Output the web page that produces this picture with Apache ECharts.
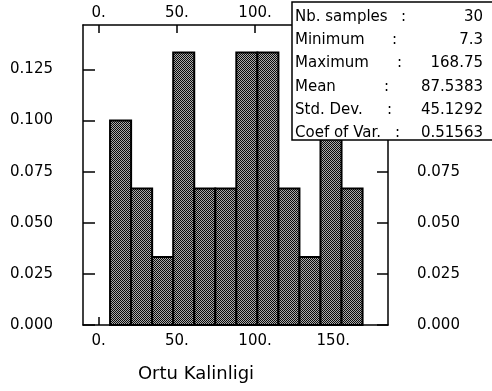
<!DOCTYPE html>
<html>
<head>
<meta charset="utf-8">
<script src="https://cdn.jsdelivr.net/npm/echarts@6/dist/echarts.min.js"></script>
<style>
html,body{margin:0;padding:0;background:#fff;}
#c{width:492px;height:391px;}
</style>
</head>
<body>
<div id="c"></div>
<script>
// ---- data ----
const binEdges = [7.3, 20.754, 34.208, 47.663, 61.117, 74.571, 88.025, 101.479, 114.933, 128.388, 141.842, 155.296, 168.75];
const frequencies = [0.1, 0.0667, 0.0333, 0.1333, 0.0667, 0.0667, 0.1333, 0.1333, 0.0667, 0.0333, 0.1, 0.0667];
const xTicks = [0, 50, 100, 150];
const yTicks = [0, 0.025, 0.05, 0.075, 0.1, 0.125];
const statLabels = ['Nb. samples', 'Minimum', 'Maximum', 'Mean', 'Std. Dev.', 'Coef of Var.'];
const statValues = ['30', '7.3', '168.75', '87.5383', '45.1292', '0.51563'];
const xTitle = 'Ortu Kalinligi';

// ---- pattern ----
const pc = document.createElement('canvas');
pc.width = 2; pc.height = 2;
const pctx = pc.getContext('2d');
pctx.fillStyle = '#ababab'; pctx.fillRect(0, 0, 2, 2);
pctx.fillStyle = '#0a0a0a'; pctx.fillRect(0, 0, 1, 1); pctx.fillRect(1, 1, 1, 1);
const pattern = { image: pc, repeat: 'repeat' };

const barData = frequencies.map((f, i) => [binEdges[i], binEdges[i + 1], f]);

const FONT = 'DejaVu Sans';
const axisLineStyle = { lineStyle: { color: '#000', width: 1.5 } };

function xAxisDef(pos, margin) {
  return {
    type: 'value', position: pos, min: -10, max: 185,
    axisLine: Object.assign({ show: true, onZero: false }, axisLineStyle),
    axisTick: { show: true, inside: true, length: 8, customValues: xTicks, lineStyle: { color: '#000', width: 1.5 } },
    axisLabel: { show: true, customValues: xTicks, formatter: v => v + '.', color: '#000', fontFamily: FONT, fontSize: 15, margin: margin },
    splitLine: { show: false }
  };
}
function yAxisDef(pos, margin, len) {
  return {
    type: 'value', position: pos, min: 0, max: 0.1467,
    axisLine: Object.assign({ show: true, onZero: false }, axisLineStyle),
    axisTick: { show: true, inside: true, length: len, customValues: yTicks, lineStyle: { color: '#000', width: 1.5 } },
    axisLabel: { show: true, customValues: yTicks, formatter: v => v.toFixed(3), color: '#000', fontFamily: FONT, fontSize: 15, margin: margin },
    splitLine: { show: false }
  };
}

const graphics = [
  { type: 'rect', z: 100, shape: { x: 292, y: 2, width: 210, height: 138 }, style: { fill: '#fff', stroke: '#000', lineWidth: 1.5 } },
  { type: 'text', z: 100, style: { text: xTitle, x: 196, y: 374, align: 'center', verticalAlign: 'middle', font: '18px "DejaVu Sans"', fill: '#000' } }
];
const rowY = [17, 40, 63, 87, 110, 133];
const colonX = [401, 392, 397, 384, 387, 395];
statLabels.forEach((s, i) => {
  graphics.push({ type: 'text', z: 101, style: { text: s, x: 295, y: rowY[i], verticalAlign: 'middle', font: '15px "DejaVu Sans"', fill: '#000' } });
  graphics.push({ type: 'text', z: 101, style: { text: ':', x: colonX[i], y: rowY[i], verticalAlign: 'middle', font: '15px "DejaVu Sans"', fill: '#000' } });
  graphics.push({ type: 'text', z: 101, style: { text: statValues[i], x: 483, y: rowY[i], align: 'right', verticalAlign: 'middle', font: '15px "DejaVu Sans"', fill: '#000' } });
});

const chart = echarts.init(document.getElementById('c'), null, { renderer: 'canvas' });
chart.setOption({
  animation: false,
  backgroundColor: '#fff',
  grid: { left: 83, right: 104, top: 25, bottom: 66 },
  xAxis: [xAxisDef('bottom', 9), xAxisDef('top', 4)],
  yAxis: [yAxisDef('left', 30, 12), yAxisDef('right', 29, 11)],
  series: [{
    type: 'custom',
    xAxisIndex: 0, yAxisIndex: 0,
    data: barData,
    encode: { x: [0, 1], y: 2 },
    renderItem: function (params, api) {
      const p0 = api.coord([api.value(0), api.value(2)]);
      const p1 = api.coord([api.value(1), 0]);
      return {
        type: 'rect',
        shape: { x: p0[0], y: p0[1], width: p1[0] - p0[0], height: p1[1] - p0[1] },
        style: { fill: pattern, stroke: '#000', lineWidth: 2 }
      };
    }
  }],
  graphic: graphics
});
</script>
</body>
</html>
